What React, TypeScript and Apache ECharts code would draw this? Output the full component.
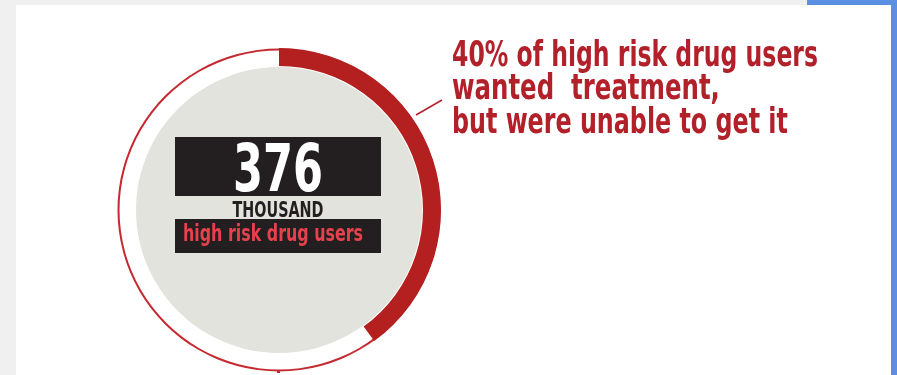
import React, { useEffect, useRef } from "react";
import * as echarts from "echarts";

// ---- data ----
const totalLabel = "376";
const unitLabel = "THOUSAND";
const groupLabel = "high risk drug users";
const shareNames = ["wanted treatment, unable to get it", "other"];
const shareValues = [40, 60];
const calloutLines = [
  "40% of high risk drug users",
  "wanted  treatment,",
  "but were unable to get it",
];

const FONT =
  "'Liberation Sans Narrow','DejaVu Sans Condensed','Liberation Sans','DejaVu Sans',sans-serif";

function measure(text: string, size: number): number {
  const ctx = document.createElement("canvas").getContext("2d");
  if (!ctx) return text.length * size * 0.5;
  ctx.font = `bold ${size}px ${FONT}`;
  return ctx.measureText(text).width;
}

// baseline: desired alphabetic baseline position
function fitText(
  text: string,
  size: number,
  x: number,
  baseline: number,
  targetWidth: number,
  color: string,
  align: "left" | "center"
) {
  const w = measure(text, size);
  return {
    type: "text",
    x,
    y: baseline,
    z: 20,
    scaleX: targetWidth / w,
    silent: true,
    style: {
      text,
      x: 0,
      y: -0.345 * size,
      fill: color,
      font: `bold ${size}px ${FONT}`,
      textAlign: align,
      textVerticalAlign: "middle",
    },
  };
}

export default function App() {
  const ref = useRef<HTMLDivElement>(null);
  useEffect(() => {
    if (!ref.current) return;
    const chart = echarts.init(ref.current, undefined, { renderer: "svg" });
    const cx = 279;
    const cy = 210;
    const calloutWidths = [366, 268, 336];
    const calloutBaselines = [66, 99, 133];
    const red = "#b2202a";
    chart.setOption({
      animation: false,
      graphic: [
        { type: "rect", z: 0, silent: true, shape: { x: 0, y: 0, width: 897, height: 375 }, style: { fill: "#f0f0f0" } },
        { type: "rect", z: 0, silent: true, shape: { x: 16, y: 5, width: 875, height: 370 }, style: { fill: "#ffffff" } },
        { type: "rect", z: 0, silent: true, shape: { x: 807, y: 0, width: 90, height: 5 }, style: { fill: "#5b8fe2" } },
        { type: "rect", z: 0, silent: true, shape: { x: 891, y: 0, width: 6, height: 375 }, style: { fill: "#5b8fe2" } },
        { type: "rect", z: 10, silent: true, shape: { x: 175, y: 137, width: 206, height: 59 }, style: { fill: "#231f20" } },
        { type: "rect", z: 10, silent: true, shape: { x: 175, y: 219, width: 206, height: 34 }, style: { fill: "#231f20" } },
        fitText(totalLabel, 66, 278, 191, 90, "#ffffff", "center"),
        fitText(unitLabel, 21, 278, 217, 91, "#231f20", "center"),
        fitText(groupLabel, 23, 273, 241, 180, "#e8414d", "center"),
        { type: "line", z: 10, silent: true, shape: { x1: 416, y1: 115, x2: 442, y2: 100 }, style: { stroke: red, lineWidth: 1.5 } },
        { type: "rect", z: 10, silent: true, shape: { x: 277, y: 370, width: 3, height: 3 }, style: { fill: "#c42a30" } },
        ...calloutLines.map((t, i) =>
          fitText(t, 36, 452, calloutBaselines[i], calloutWidths[i], red, "left")
        ),
      ],
      series: [
        {
          type: "pie",
          silent: true,
          z: 2,
          center: [cx, cy],
          radius: [159.5, 161.5],
          label: { show: false },
          labelLine: { show: false },
          emphasis: { disabled: true },
          data: [{ value: 100, name: "ring", itemStyle: { color: "#c42a30" } }],
        },
        {
          type: "pie",
          silent: true,
          z: 2,
          center: [cx, cy],
          radius: [0, 143],
          label: { show: false },
          labelLine: { show: false },
          emphasis: { disabled: true },
          data: [{ value: 100, name: "disk", itemStyle: { color: "#e3e3dd" } }],
        },
        {
          type: "pie",
          silent: true,
          z: 3,
          center: [cx, cy],
          radius: [144, 162],
          startAngle: 90,
          clockwise: true,
          label: { show: false },
          labelLine: { show: false },
          emphasis: { disabled: true },
          data: shareValues.map((v, i) => ({
            value: v,
            name: shareNames[i],
            itemStyle: { color: i === 0 ? "#b41f1f" : "rgba(0,0,0,0)" },
          })),
        },
      ],
    });
    return () => chart.dispose();
  }, []);
  return (
    <div
      ref={ref}
      style={{ position: "fixed", left: 0, top: 0, width: 897, height: 375 }}
    />
  );
}
